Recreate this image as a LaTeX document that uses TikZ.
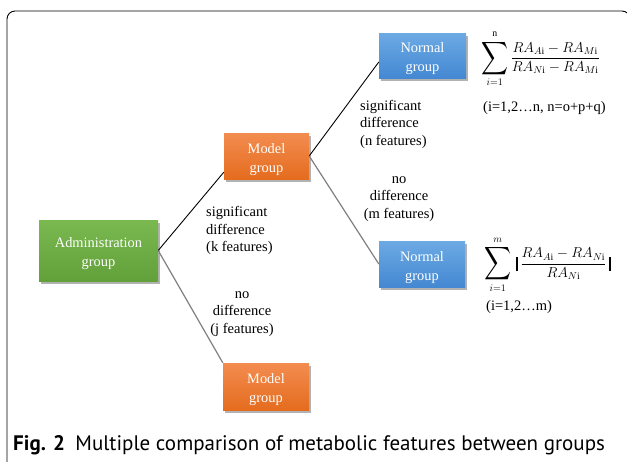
\documentclass[tikz,border=0pt]{standalone}
\usepackage{fontspec}
\usepackage{amsmath}
\setmainfont{Liberation Serif}
\newfontfamily\capfont{PT Sans}
\usetikzlibrary{shadows,calc}

\definecolor{grnTop}{RGB}{122,184,80}
\definecolor{grnBot}{RGB}{98,160,58}
\definecolor{orgTop}{RGB}{243,140,80}
\definecolor{orgBot}{RGB}{228,108,30}
\definecolor{bluTop}{RGB}{108,170,228}
\definecolor{bluBot}{RGB}{68,136,210}
\definecolor{linkGray}{RGB}{128,128,128}

\tikzset{
  groupbox/.style={rectangle, inner sep=0pt, align=center, text=white,
    font=\fontsize{14.4}{19}\selectfont,
    drop shadow={shadow xshift=1.5pt, shadow yshift=-2.5pt, opacity=0.3, fill=black}},
  admbox/.style={groupbox, top color=grnTop, bottom color=grnBot},
  modbox/.style={groupbox, top color=orgTop, bottom color=orgBot},
  norbox/.style={groupbox, top color=bluTop, bottom color=bluBot},
  sigline/.style={draw=black, line width=0.9pt},
  noline/.style={draw=linkGray, line width=1.2pt},
  lbl/.style={inner sep=0pt, font=\fontsize{14.5}{17.5}\selectfont},
  frm/.style={inner sep=0pt, font=\fontsize{14}{16}\selectfont},
}

% taller summation sign and the heavy bars of the absolute value
\newcommand{\bigsum}{\mathop{\vcenter{\hbox{\scalebox{1.3}[1.6]{$\displaystyle\sum$}}}}\limits}
\newcommand{\barmark}{\vcenter{\hbox{\rule{2pt}{14pt}}}}
% pushes the box text slightly below the box centre
\newcommand{\boxlift}{\rule{0pt}{17pt}}

\begin{document}
\begin{tikzpicture}[x=1pt,y=-1pt]
\useasboundingbox (0,0) rectangle (627,461);
\fill[white] (0,0) rectangle (627,461);

% frame around the figure
\draw[line width=0.9pt, rounded corners=8pt] (7,475) -- (7,11) -- (630,11) -- (630,475);

% group boxes
\node[admbox, minimum width=119pt, minimum height=61pt] (adm) at (98.5,250.5) {\boxlift Administration\\group};
\node[modbox, minimum width=85pt, minimum height=46pt] (modU) at (266.5,156) {\boxlift Model\\group};
\node[modbox, minimum width=86pt, minimum height=47pt] (modL) at (266,386.5) {\boxlift Model\\group};
\node[norbox, minimum width=87pt, minimum height=45pt] (norU) at (422.5,55.5) {\boxlift Normal\\group};
\node[norbox, minimum width=86pt, minimum height=46pt] (norL) at (422,264) {\boxlift Normal\\group};

% connectors
\draw[sigline] (adm.east) -- ([yshift=7pt]modU.south west);
\draw[noline] (adm.east) -- (modL.north west);
\draw[sigline] (modU.east) -- ([yshift=-6.5pt]norU.west);
\draw[noline] (modU.east) -- (norL.west);

% branch labels
\node[lbl, align=left, anchor=west] (labK) at (206,230.5) {significant\\difference\\(k features)};
\node[lbl, align=center] (labJ) at (242,314) {no\\difference\\(j features)};
\node[lbl, align=left, anchor=west] (labN) at (360,124) {significant\\difference\\(n features)};
\node[lbl, align=center] (labM) at (399,199) {no\\difference\\(m features)};

% formulas
\node[frm, anchor=west] (fU) at (481,59)
  {$\displaystyle\bigsum_{i=1}^{\mathrm{n}}\frac{RA_{A\mathrm{i}}-RA_{M\mathrm{i}}}{RA_{N\mathrm{i}}-RA_{M\mathrm{i}}}$};
\node[lbl, anchor=west] (rU) at (483,108) {(i=1,2…n, n=o+p+q)};
\node[frm, anchor=west] (fL) at (484,265)
  {$\displaystyle\bigsum_{i=1}^{m}\,\barmark\,\frac{RA_{A\mathrm{i}}-RA_{N\mathrm{i}}}{RA_{N\mathrm{i}}}\,\barmark$};
\node[lbl, anchor=west] (rL) at (486,307) {(i=1,2…m)};

% caption
\node[anchor=base west, inner sep=0pt, font=\capfont\fontsize{21}{24}\selectfont] (cap) at (13,450)
  {\textbf{Fig. 2}\hspace{0.5em}Multiple comparison of metabolic features between groups};
\end{tikzpicture}
\end{document}
